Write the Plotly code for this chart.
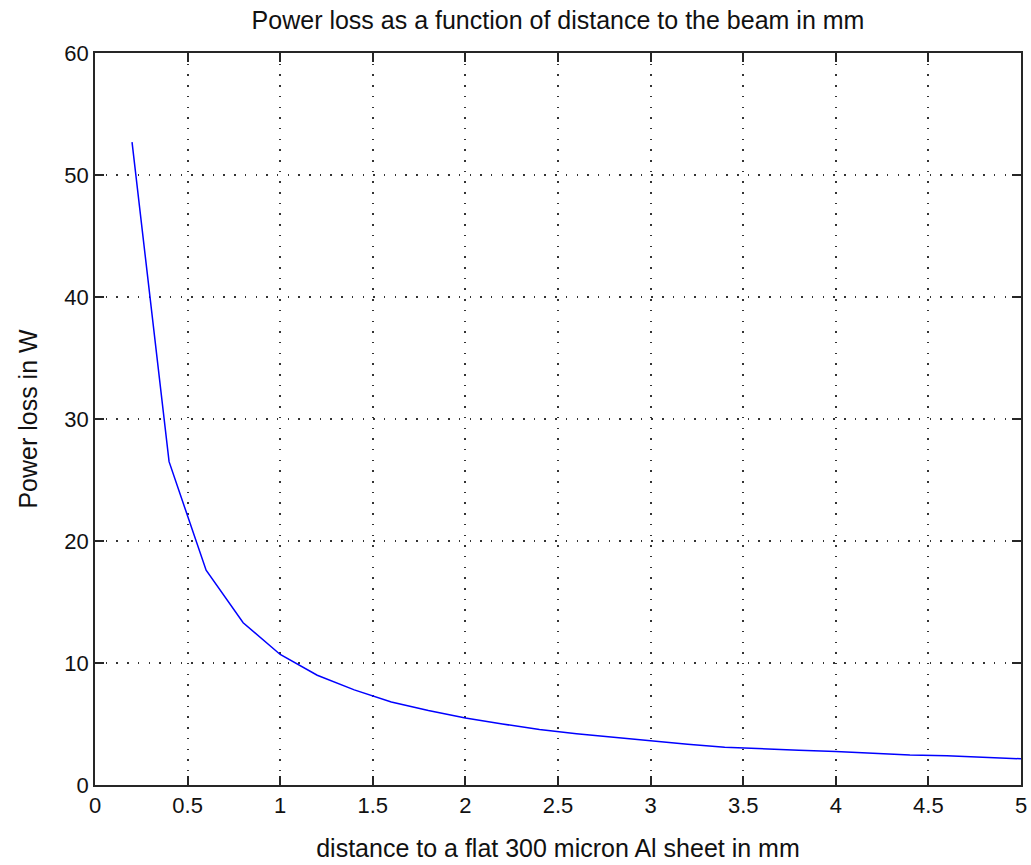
import plotly.graph_objects as go

distance_mm = [0.2, 0.4, 0.6, 0.8, 1.0, 1.2, 1.4, 1.6, 1.8, 2.0, 2.2, 2.4, 2.6,
               2.8, 3.0, 3.2, 3.4, 3.6, 3.8, 4.0, 4.2, 4.4, 4.6, 4.8, 5.0]
power_loss_w = [52.7, 26.5, 17.6, 13.3, 10.7, 9.0, 7.8, 6.8, 6.1, 5.5, 5.0, 4.55, 4.2,
                3.9, 3.6, 3.35, 3.1, 2.95, 2.85, 2.75, 2.6, 2.45, 2.4, 2.25, 2.15]

x_ticks = [0, 0.5, 1, 1.5, 2, 2.5, 3, 3.5, 4, 4.5, 5]
y_ticks = [0, 10, 20, 30, 40, 50, 60]

font_family = "Liberation Sans, Arial, sans-serif"
tick_fs = 22
label_fs = 25

fig = go.Figure()
fig.add_trace(go.Scatter(x=distance_mm, y=power_loss_w, mode="lines",
                         line=dict(color="#0000ff", width=1.5), showlegend=False))

axis_common = dict(
    showline=True, linecolor="#262626", linewidth=1.5, mirror="allticks",
    ticks="inside", ticklen=9, tickcolor="#262626", tickwidth=1.5,
    showgrid=True, gridcolor="#333333", gridwidth=1.5, griddash="1.5px,9.2px",
    zeroline=False, automargin=False,
    tickfont=dict(family=font_family, size=tick_fs, color="#111111"),
)

fig.update_layout(
    width=1031, height=865,
    paper_bgcolor="white", plot_bgcolor="white",
    margin=dict(l=95, r=10, t=53, b=80),
    title=dict(text="Power loss as a function of distance to the beam in mm",
               xref="paper", x=0.5, xanchor="center",
               yref="container", y=1 - 20 / 865, yanchor="middle",
               font=dict(family=font_family, size=label_fs, color="#111111")),
    xaxis=dict(range=[0, 5], tickvals=x_ticks, ticktext=[str(t) for t in x_ticks],
               title=dict(text="distance to a flat 300 micron Al sheet in mm",
                          font=dict(family=font_family, size=label_fs, color="#111111"),
                          standoff=22),
               **axis_common),
    yaxis=dict(range=[0, 60], tickvals=y_ticks,
               title=dict(text="Power loss in W",
                          font=dict(family=font_family, size=label_fs, color="#111111"),
                          standoff=20),
               **axis_common),
)

fig.write_html("out.html")
